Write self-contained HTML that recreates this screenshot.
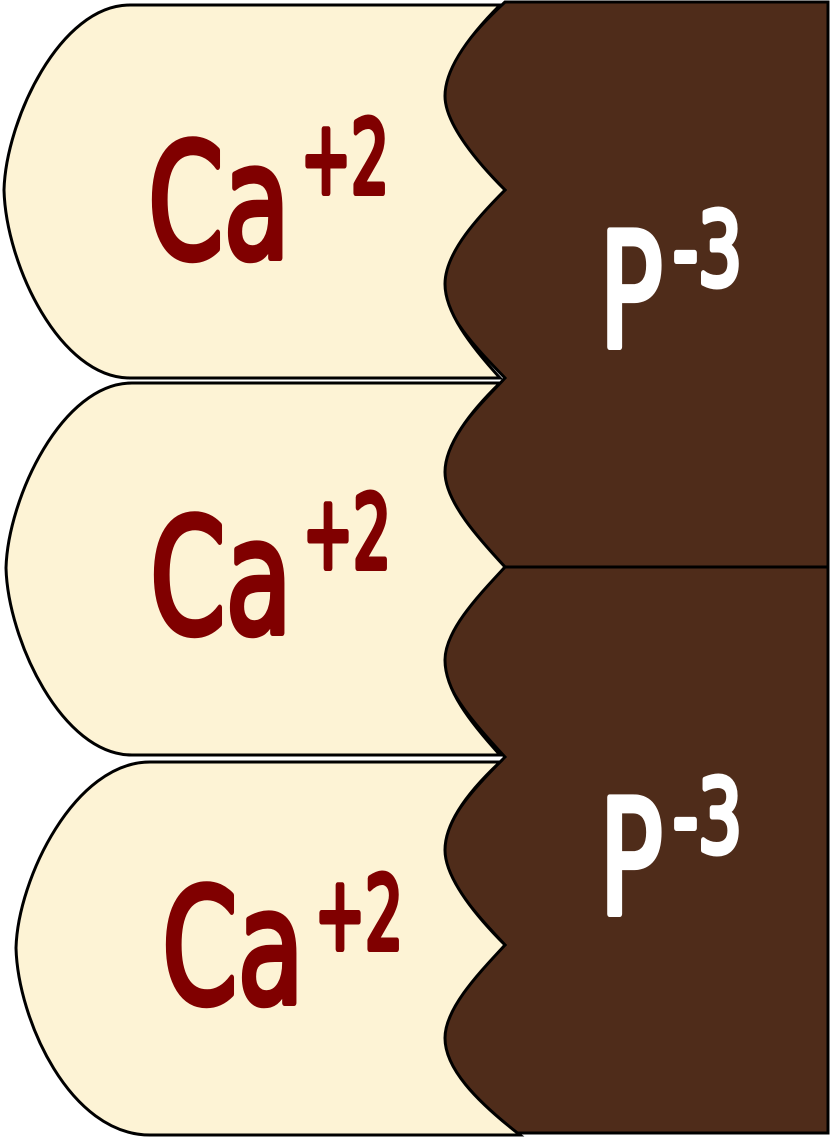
<!DOCTYPE html>
<html><head><meta charset="utf-8"><style>
html,body{margin:0;padding:0;background:#fff;width:831px;height:1137px;overflow:hidden}
svg{display:block}
text{font-family:"DejaVu Sans Condensed","DejaVu Sans","Liberation Sans",sans-serif;font-weight:normal;stroke-width:6;stroke-linejoin:round}
</style></head><body>
<svg width="831" height="1137" viewBox="0 0 831 1137">
  <g>
    <path d="M505 2 L828 2 L828 567 L505 567 C475 535,443 500,443 472 C443 440,480 405,505 378 C480 352,443 315,443 284 C443 255,480 215,505 190 C480 165,443 125,443 96 C443 65,475 30,505 2 Z" fill="#4f2c1a" stroke="#000" stroke-width="3"/>
    <text x="599" y="347" font-size="160" fill="#fff" stroke="#fff" textLength="64" lengthAdjust="spacingAndGlyphs">P</text>
    <text x="673" y="285" font-size="102" fill="#fff" stroke="#fff" textLength="69" lengthAdjust="spacingAndGlyphs">-3</text>
  </g>
  <g>
    <path d="M505 567 L828 567 L828 1133 L505 1133 C475 1100,443 1065,443 1038 C443 1005,480 970,505 945 C480 918,443 880,443 850 C443 820,480 782,505 757 C480 730,443 690,443 660 C443 630,475 597,505 567 Z" fill="#4f2c1a" stroke="#000" stroke-width="3"/>
    <text x="599" y="914" font-size="160" fill="#fff" stroke="#fff" textLength="64" lengthAdjust="spacingAndGlyphs">P</text>
    <text x="673" y="852" font-size="102" fill="#fff" stroke="#fff" textLength="69" lengthAdjust="spacingAndGlyphs">-3</text>
  </g>
  <g>
    <path d="M130 5 L500 5 C470 35,445 68,445 96 C445 125,480 165,505 190 C480 215,445 252,445 284 C445 312,470 345,500 378 L130 378 C60 378,6 265,4 190 C6 120,60 5,130 5 Z" fill="#fdf3d5" stroke="#000" stroke-width="3"/>
    <text x="148" y="258" font-size="160" fill="#800000" stroke="#800000" textLength="142" lengthAdjust="spacingAndGlyphs">Ca</text>
    <text x="301" y="193" font-size="102" fill="#800000" stroke="#800000" textLength="88" lengthAdjust="spacingAndGlyphs">+2</text>
  </g>
  <g>
    <path d="M132 383 L500 383 C470 412,445 445,445 472 C445 502,480 540,505 567 C480 594,445 630,445 660 C445 690,470 722,500 755 L132 755 C62 755,8 640,6 568 C8 498,62 383,132 383 Z" fill="#fdf3d5" stroke="#000" stroke-width="3"/>
    <text x="150" y="633" font-size="160" fill="#800000" stroke="#800000" textLength="142" lengthAdjust="spacingAndGlyphs">Ca</text>
    <text x="303" y="568" font-size="102" fill="#800000" stroke="#800000" textLength="88" lengthAdjust="spacingAndGlyphs">+2</text>
  </g>
  <g>
    <path d="M150 762 L500 762 C470 790,445 822,445 850 C445 880,480 920,505 945 C480 972,445 1008,445 1038 C445 1068,475 1100,520 1135 L150 1135 C70 1135,18 1020,16 948 C18 878,75 762,150 762 Z" fill="#fdf3d5" stroke="#000" stroke-width="3"/>
    <text x="162" y="1003" font-size="160" fill="#800000" stroke="#800000" textLength="142" lengthAdjust="spacingAndGlyphs">Ca</text>
    <text x="315" y="949" font-size="102" fill="#800000" stroke="#800000" textLength="88" lengthAdjust="spacingAndGlyphs">+2</text>
  </g>
</svg>
</body></html>
